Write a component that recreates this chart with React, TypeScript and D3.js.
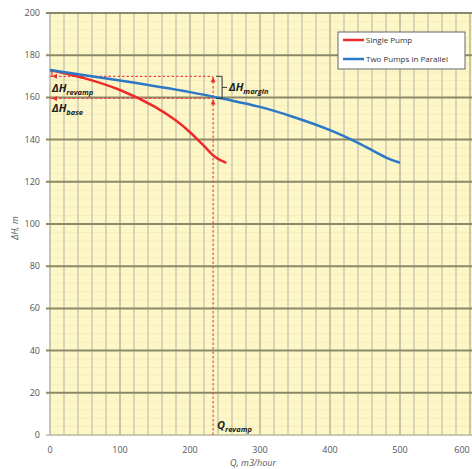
import React from "react";
import * as d3 from "d3";

const singleQ = [0, 50, 100, 150, 180, 200, 220, 235, 245, 252];
const singleH = [173, 169, 163.5, 155.5, 149, 143.5, 137, 132, 130, 129];
const parallelQ = [0, 100, 200, 250, 300, 350, 400, 440, 480, 500];
const parallelH = [173, 168, 162.5, 159.2, 155.5, 150.5, 144.5, 138.5, 131.5, 129];
const xTicks = [0, 100, 200, 300, 400, 500, 600];
const yTicks = [0, 20, 40, 60, 80, 100, 120, 140, 160, 180, 200];
const seriesNames = ["Single Pump", "Two Pumps in Parallel"];
const qRevamp = 233;
const hRevamp = 170;
const hBase = 159.5;

const W = 472;
const H = 469;

export default function App() {
  const x = d3.scaleLinear().domain([0, 600]).range([50, 470]);
  const y = d3.scaleLinear().domain([0, 200]).range([435, 13]);
  const line = d3
    .line<[number, number]>()
    .x((d) => x(d[0]))
    .y((d) => y(d[1]))
    .curve(d3.curveCatmullRom.alpha(0.5));
  const single: [number, number][] = singleQ.map((q, i) => [q, singleH[i]]);
  const parallel: [number, number][] = parallelQ.map((q, i) => [q, parallelH[i]]);
  const minorH = d3.range(0, 201, 4);
  const vGrid = d3.range(0, 601, 20);
  const font = "'Open Sans', 'Liberation Sans', sans-serif";
  const red = "#ee2b2b";
  const blue = "#2a78c6";
  const dash = "#f04848";
  const xq = x(qRevamp);

  return (
    <div style={{ position: "fixed", left: 0, top: 0 }}>
      <svg width={W} height={H} style={{ display: "block", background: "#fff" }} fontFamily={font}>
        <rect x={x(0)} y={y(200)} width={W - x(0)} height={y(0) - y(200)} fill="#fdf7c8" />
        {minorH.map((v) => (
          <line key={"m" + v} x1={x(0)} x2={W} y1={y(v)} y2={y(v)} stroke="#f5edbf" strokeWidth={1} />
        ))}
        {vGrid.map((v) => (
          <line
            key={"v" + v}
            x1={x(v)}
            x2={x(v)}
            y1={y(200)}
            y2={y(0)}
            stroke={v % 100 === 0 ? "#b9b59c" : "#cdc9b0"}
            strokeWidth={1.5}
          />
        ))}
        {yTicks.map((v) => (
          <line key={"h" + v} x1={x(0) - 4} x2={W} y1={y(v)} y2={y(v)} stroke={v === 0 ? "#bdb9a2" : "#8b8a68"} strokeWidth={v === 0 ? 1.5 : 2} />
        ))}
        {yTicks.map((v) => (
          <text key={"yt" + v} x={40} y={y(v) + 3} textAnchor="end" fontSize={9} fill="#555">
            {v}
          </text>
        ))}
        {xTicks.map((v) => (
          <text key={"xt" + v} x={Math.min(x(v), 462)} y={453} textAnchor="middle" fontSize={9} fill="#555">
            {v}
          </text>
        ))}
        <text x={253} y={466} textAnchor="middle" fontSize={9} fontStyle="italic" fill="#555">
          Q, m3/hour
        </text>
        <text transform="translate(18,228) rotate(-90)" textAnchor="middle" fontSize={9} fontStyle="italic" fill="#555">
          ΔH, m
        </text>

        {/* annotation dashed lines */}
        <line x1={x(0)} x2={xq} y1={y(hRevamp)} y2={y(hRevamp)} stroke={dash} strokeWidth={1.2} strokeDasharray="2.5,2" />
        <line x1={x(0)} x2={xq} y1={y(hBase)} y2={y(hBase)} stroke={dash} strokeWidth={1.2} strokeDasharray="2.5,2" />
        <line x1={xq} x2={xq} y1={y(0)} y2={y(hRevamp)} stroke={dash} strokeWidth={1.2} strokeDasharray="2.5,2" />
        <path d={`M${xq},${y(hRevamp) + 1} l-2.5,5 h5 z`} fill={red} />
        <path d={`M${xq},${y(hBase) + 1} l-2.5,5 h5 z`} fill={red} />
        <path d={`M${x(0) + 2},${y(hRevamp)} l5,-2.5 v5 z`} fill={red} />
        <path d={`M${x(0) + 2},${y(hBase)} l5,-2.5 v5 z`} fill={red} />
        <line x1={x(0) + 2} x2={x(0) + 2} y1={y(hRevamp)} y2={y(173)} stroke={red} strokeWidth={1.2} />

        {/* curves */}
        <path d={line(single) || ""} fill="none" stroke={red} strokeWidth={2.5} />
        <path d={line(parallel) || ""} fill="none" stroke={blue} strokeWidth={2.5} />

        {/* bracket */}
        <path
          d={`M${xq + 3},${y(hRevamp)} H${xq + 9} V${y(hBase)} H${xq + 3} M${xq + 9},${(y(hRevamp) + y(hBase)) / 2} H${xq + 14}`}
          fill="none"
          stroke="#333"
          strokeWidth={1}
        />

        {/* labels */}
        <text x={52} y={92} fontSize={11} fontWeight="bold" fontStyle="italic" fill="#222">
          ΔH<tspan fontSize={7.5} dy={3}>revamp</tspan>
        </text>
        <text x={52} y={112} fontSize={11} fontWeight="bold" fontStyle="italic" fill="#222">
          ΔH<tspan fontSize={7.5} dy={3}>base</tspan>
        </text>
        <text x={229} y={91} fontSize={11} fontWeight="bold" fontStyle="italic" fill="#222">
          ΔH<tspan fontSize={7.5} dy={3}>margin</tspan>
        </text>
        <text x={217} y={429} fontSize={11} fontWeight="bold" fontStyle="italic" fill="#222">
          Q<tspan fontSize={7.5} dy={3}>revamp</tspan>
        </text>

        {/* legend */}
        <rect x={338} y={32} width={127} height={37} fill="#fff" stroke="#666" strokeWidth={1} />
        <line x1={343} x2={364} y1={40} y2={40} stroke={red} strokeWidth={2.5} />
        <line x1={343} x2={364} y1={59} y2={59} stroke={blue} strokeWidth={2.5} />
        <text x={366} y={43} fontSize={8} fill="#333">
          {seriesNames[0]}
        </text>
        <text x={366} y={62} fontSize={8} fill="#333">
          {seriesNames[1]}
        </text>
      </svg>
    </div>
  );
}
